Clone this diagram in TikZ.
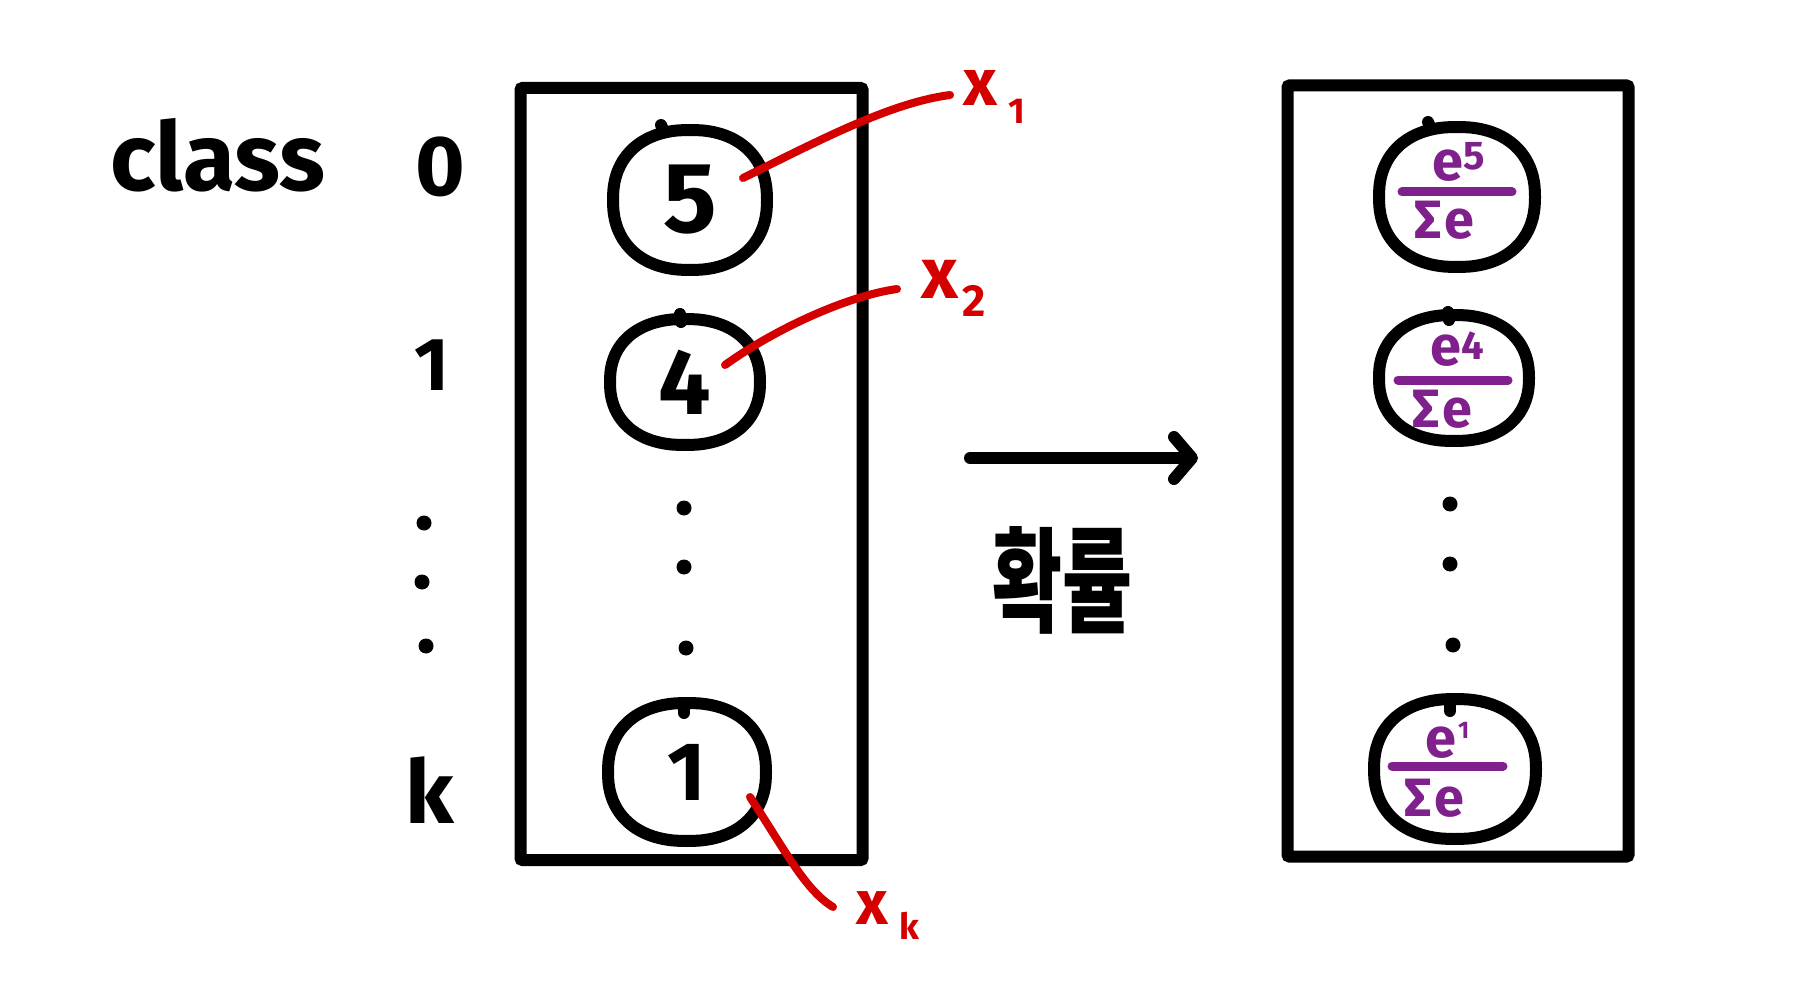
\documentclass[tikz,border=0pt]{standalone}
\usepackage{fontspec}
\setmainfont{Fira Sans}
\newfontfamily\krfont{Noto Sans CJK KR}
\usetikzlibrary{shapes.geometric,arrows.meta}
\newcommand\myfs[1]{\fontsize{#1}{#1}\selectfont}
\definecolor{redc}{RGB}{212,0,0}
\definecolor{purp}{RGB}{128,32,140}
\tikzset{
  ink/.style={line width=12pt, line cap=round, line join=round},
  bubble/.style={ellipse, inner sep=0pt},
  frame/.style={rectangle, draw, line width=12pt, rounded corners=2pt, inner sep=0pt},
  txt/.style={inner sep=0pt, font=\bfseries},
  redtxt/.style={inner sep=0pt, text=redc, font=\bfseries, anchor=base west},
  purtxt/.style={inner sep=0pt, text=purp, font=\bfseries, anchor=base west},
  redline/.style={draw=redc, line width=8pt, line cap=round},
  fracbar/.style={draw=purp, line width=9pt, line cap=round},
  tick/.style={line width=12pt, line cap=round},
}
% squarish hand-drawn circle around a named node: name, half width, half height
\newcommand\blob[3]{%
  \draw[ink, shift={(#1)}] plot[smooth cycle, samples=48, domain=0:352.5, variable=\t]
    ({#2*sign(cos(\t))*pow(abs(cos(\t)),0.88)}, {#3*sign(sin(\t))*pow(abs(sin(\t)),0.88)});}
\begin{document}
\begin{tikzpicture}[x=1pt,y=-1pt]
\useasboundingbox (0,0) rectangle (1805,1000);
\fill[white] (0,0) rectangle (1805,1000);

% left labels
\node[txt, font=\bfseries\myfs{95}] (cls) at (218,155) {class};
\node[txt, font=\bfseries\myfs{85}] (l0) at (440,167) {0};
\node[txt, font=\bfseries\myfs{75}] (l1) at (432,365) {1};
\node[txt, font=\bfseries\myfs{88}] (lk) at (430,790) {k};
\foreach \p [count=\i] in {(424,523),(422,582),(426,646)}
  \fill \p circle (7.5);

% boxes
\node[frame, minimum width=342, minimum height=772] (lbox) at (691.5,474) {};
\node[frame, minimum width=341, minimum height=771] (rbox) at (1458,471) {};

% left bubbles
\node[bubble, minimum width=154, minimum height=140, font=\bfseries\myfs{100}] (b5) at (690,200) {5};
\node[bubble, minimum width=150, minimum height=126, font=\bfseries\myfs{93}] (b4) at (685,382) {\raisebox{-6pt}{4}};
\node[bubble, minimum width=158, minimum height=138, font=\bfseries\myfs{83}] (b1) at (687,772) {1};
\blob{b5}{77}{70}
\blob{b4}{75}{63}
\blob{b1}{79}{69}
\draw[tick] (661,125) -- (664,132);
\draw[tick] (680,314) -- (681,322);
\draw[tick] (684,703) -- (684,713);
\foreach \p in {(684,508),(684,567),(686,648)}
  \fill \p circle (7.5);

% red labels and connectors
\coordinate (r1) at (743,178);
\coordinate (e1) at (950,95);
\coordinate (r2) at (725,365);
\coordinate (e2) at (897,289);
\coordinate (r3) at (750,797);
\coordinate (e3) at (833,907);
\draw[redline] (r1) .. controls (820,140) and (890,103) .. (e1);
\draw[redline] (r2) .. controls (775,329) and (847,296) .. (e2);
\draw[redline] (r3) .. controls (785,850) and (805,890) .. (e3);
\node[redtxt, font=\bfseries\myfs{66}] (x1) at (963,106) {x\hspace{11pt}\raisebox{-18pt}{\myfs{36}1}};
\node[redtxt, font=\bfseries\myfs{72}] (x2) at (921,299) {x\hspace{4pt}\raisebox{-18pt}{\myfs{45}2}};
\node[redtxt, font=\bfseries\myfs{62}] (xk) at (856,924) {x\hspace{12pt}\raisebox{-15pt}{\myfs{36}k}};

% arrow and Korean label
\coordinate (a1) at (970,458);
\coordinate (a2) at (1198,458);
\draw[ink, -{Straight Barb[length=18pt,width=42pt,round]}] (a1) -- (a2);
\node[inner sep=0pt, font=\krfont\bfseries\myfs{76}] (prob) at (1062,580) {\scalebox{1}[1.5]{확률}};

% right bubbles
\node[bubble, minimum width=157, minimum height=141] (s5) at (1457,197) {};
\node[bubble, minimum width=151, minimum height=127] (s4) at (1454,378) {};
\node[bubble, minimum width=162, minimum height=140] (s1) at (1455,769) {};
\blob{s5}{78}{70}
\blob{s4}{75}{63}
\blob{s1}{81}{70}
\draw[tick] (1428,122) -- (1431,129);
\draw[tick] (1448,312) -- (1449,320);
\draw[tick] (1450,701) -- (1450,711);
\foreach \p in {(1450,504),(1450,564),(1453,645)}
  \fill \p circle (7.5);

% fractions
\draw[fracbar] (1402,192) -- (1512,192);
\node[purtxt, font=\bfseries\myfs{56}] (n5) at (1432,181) {e\raisebox{11pt}{\myfs{40}5}};
\node[purtxt, font=\bfseries\myfs{54}] (d5) at (1414,239) {Σ\hspace{3pt}e};
\draw[fracbar] (1398,380) -- (1508,380);
\node[purtxt, font=\bfseries\myfs{56}] (n4) at (1430,366) {e\raisebox{6pt}{\myfs{40}4}};
\node[purtxt, font=\bfseries\myfs{54}] (d4) at (1412,427) {Σ\hspace{3pt}e};
\draw[fracbar] (1392,766) -- (1503,766);
\node[purtxt, font=\bfseries\myfs{56}] (n1) at (1425,757) {e\hspace{2pt}\raisebox{19pt}{\myfs{24}1}};
\node[purtxt, font=\bfseries\myfs{54}] (d1) at (1404,816) {Σ\hspace{3pt}e};
\end{tikzpicture}
\end{document}
